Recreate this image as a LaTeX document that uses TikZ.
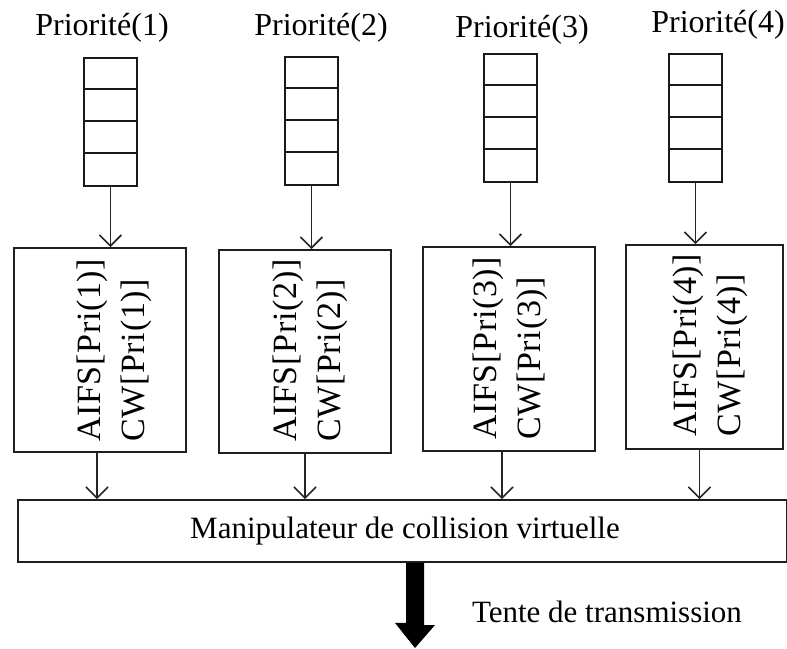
\documentclass[tikz,border=0pt]{standalone}
\usepackage{fontspec}
\setmainfont{Liberation Serif}
\newfontfamily\spacedserif[LetterSpace=2]{Liberation Serif}
\usetikzlibrary{arrows.meta}
\begin{document}
\begin{tikzpicture}[x=1pt,y={(0pt,-1pt)},
  box/.style={draw=black!88,line width=1.8pt,inner sep=0pt},
  queuebox/.style={draw=black!90,line width=1.8pt,inner sep=0pt,minimum width=53pt,minimum height=128pt},
  divider/.style={draw=black!90,line width=2.4pt},
  flow/.style={draw=black!85,line width=1.6pt,-{Straight Barb[length=11pt,width=22pt,line width=1.6pt]}},
  prio/.style={font=\fontsize{32}{38}\selectfont,anchor=base,inner sep=0pt},
  params/.style={font=\spacedserif\fontsize{34}{44}\selectfont,rotate=90,anchor=west,align=left,inner sep=0pt},
  label/.style={font=\fontsize{31}{37}\selectfont,inner sep=0pt}]
\useasboundingbox (0,0) rectangle (787,648);

% priority labels
\node[prio] (l1) at (102,35) {Priorité(1)};
\node[prio] (l2) at (321,35) {Priorité(2)};
\node[prio] (l3) at (522,37) {Priorité(3)};
\node[prio] (l4) at (718,32) {Priorité(4)};

% queues, four cells each
\foreach \n/\xl/\yt in {1/83/57, 2/284/56, 3/483/53, 4/668/53} {
  \node[queuebox,anchor=north west] (q\n) at (\xl,\yt) {};
  \foreach \k in {1,2,3}
    \draw[divider] (q\n.north west) ++(0,32*\k) -- ++(53,0);
}

% parameter boxes
\node[box,minimum width=172pt,minimum height=204pt] (b1) at (100,350) {};
\node[box,minimum width=172pt,minimum height=203pt] (b2) at (305,351.5) {};
\node[box,minimum width=172pt,minimum height=204pt] (b3) at (509,349) {};
\node[box,minimum width=157pt,minimum height=204pt] (b4) at (704.5,347) {};

\node[params] (t1) at (114,442) {AIFS[Pri(1)]\\CW[Pri(1)]};
\node[params] (t2) at (310,442) {AIFS[Pri(2)]\\CW[Pri(2)]};
\node[params] (t3) at (510,440) {AIFS[Pri(3)]\\CW[Pri(3)]};
\node[params] (t4) at (710,437) {AIFS[Pri(4)]\\CW[Pri(4)]};

% collision handler
\node[box,minimum width=769pt,minimum height=62pt] (m) at (402.5,531) {};
\node[label] (mt) at (405,531) {Manipulateur de collision virtuelle};

% queue -> parameter box
\foreach \n in {1,2,3,4}
  \draw[flow] (q\n.south) -- (q\n.south |- b\n.north);

% parameter box -> collision handler
\draw[flow] ([xshift=-3pt]b1.south) -- ([xshift=-3pt]b1.south |- m.north);
\draw[flow] (b2.south) -- (b2.south |- m.north);
\draw[flow] ([xshift=-7pt]b3.south) -- ([xshift=-7pt]b3.south |- m.north);
\draw[flow] ([xshift=-5pt]b4.south) -- ([xshift=-5pt]b4.south |- m.north);

% transmission attempt
\coordinate (a0) at (m.south -| 415,0);
\fill[black] ([xshift=-9pt]a0) -- ++(0,60) -- ++(-11,0) -- (415,648) -- ++(20,-23) -- ++(-11,0) -- ([xshift=9pt]a0) -- cycle;
\node[label] (tt) at (607,612) {Tente de transmission};
\end{tikzpicture}
\end{document}
